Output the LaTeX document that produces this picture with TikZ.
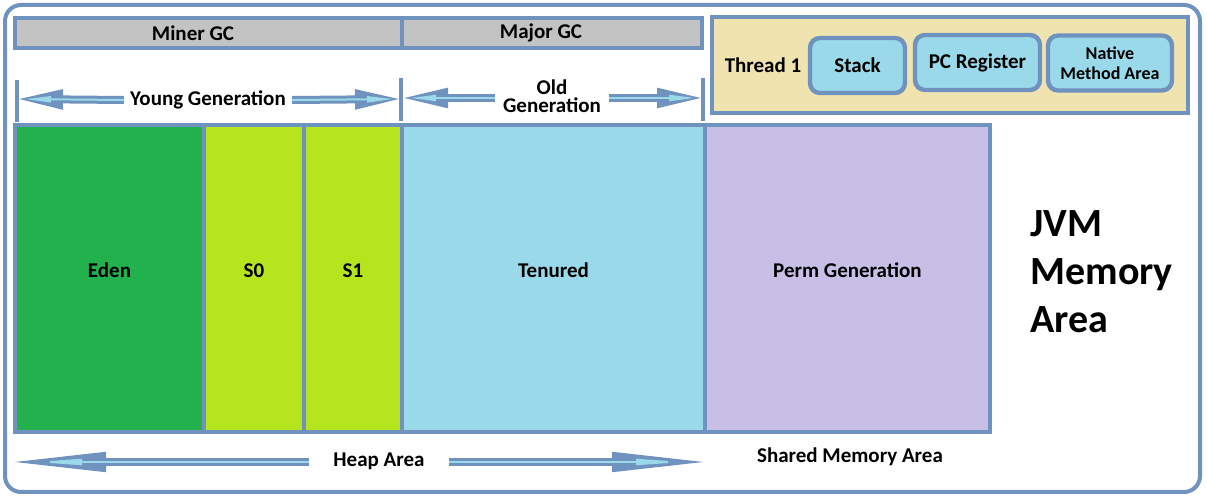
\documentclass[tikz,border=0pt]{standalone}
\usepackage{fontspec}
\setmainfont{Carlito}
\usetikzlibrary{arrows.meta,positioning}

\definecolor{jblue}{RGB}{112,146,190}
\definecolor{gcgray}{RGB}{195,195,195}
\definecolor{edengreen}{RGB}{34,177,76}
\definecolor{survlime}{RGB}{181,230,29}
\definecolor{tenblue}{RGB}{153,217,234}
\definecolor{permlilac}{RGB}{200,191,231}
\definecolor{threadtan}{RGB}{239,228,176}

\begin{document}
\begin{tikzpicture}[x=0.5pt, y=-0.5pt,
			every node/.style={font=\fontsize{10.5}{12}\selectfont\bfseries, inner sep=0pt},
			gcbar/.style={draw=jblue, line width=2.2pt, fill=gcgray, minimum height=15pt},
			area/.style={draw=jblue, line width=2.4pt, minimum height=153.5pt, text depth=8pt},
			thread/.style={draw=jblue, line width=2.2pt, fill=threadtan, minimum width=238pt, minimum height=48pt},
			part/.style={draw=jblue, line width=2.2pt, rounded corners=5pt, fill=tenblue, align=center, minimum height=27.5pt},
			tick/.style={draw=jblue, line width=2pt},
			fatbase/.style={draw=jblue, line width=4pt},
			fatshort/.style={fatbase, -{Triangle[length=24pt, width=9pt]},
				postaction={draw=tenblue, line width=1pt, shorten >=5pt, -{Triangle[length=13pt, width=3pt]}}},
			fatlong/.style={fatbase, -{Triangle[length=50pt, width=9pt]},
				postaction={draw=tenblue, line width=1pt, shorten >=14pt, -{Triangle[length=24pt, width=3pt]}}}]
			\useasboundingbox (0,0) rectangle (1207,497);
			\draw[jblue, line width=2pt, rounded corners=8pt] (5,5) rectangle (1200,492);
			% garbage collection bars
			\node[gcbar, minimum width=193.5pt] (minor) at (208.5,33) {};
			\node[gcbar, minimum width=150pt] (major) at (552,33) {};
			\node (minorlbl) at (193,33) {Miner GC};
			\node (majorlbl) at (541,33) {Major GC};
			% thread area
			\node[thread] (thr) at (950,65) {};
			\node (thrlbl) at (763,65) {Thread 1};
			\node[part, minimum width=47.5pt] (stack) at (857.5,65.5) {Stack};
			\node[part, minimum width=62.5pt] (pcreg) at (977.5,62.5) {PC Register};
			\node[part, minimum width=62pt, font=\fontsize{9}{10}\selectfont\bfseries] (native) at (1110,63) {Native\\ Method Area};
			% memory blocks
			\node[area, fill=edengreen, minimum width=94.5pt] (eden) at (109.5,278.5) {Eden};
			\node[area, fill=survlime, minimum width=50pt] (szero) at (254,278.5) {S0};
			\node[area, fill=survlime, minimum width=49pt] (sone) at (353,278.5) {S1};
			\node[area, fill=tenblue, minimum width=151.5pt] (tenured) at (553.5,278.5) {Tenured};
			\node[area, fill=permlilac, minimum width=142.5pt] (perm) at (847.5,278.5) {Perm Generation};
			% generation ticks
			\coordinate (ya) at (17,80);
			\coordinate (yb) at (17,122);
			\coordinate (oa) at (401,78);
			\coordinate (ob) at (401,121);
			\coordinate (pa) at (703,78);
			\coordinate (pb) at (703,121);
			\draw[tick] (ya) -- (yb);
			\draw[tick] (oa) -- (ob);
			\draw[tick] (pa) -- (pb);
			\node[inner xsep=3pt] (young) at (208,100) {Young Generation};
			\node[align=center, inner xsep=4pt, font=\fontsize{10.5}{9}\selectfont\bfseries] (old) at (552,96) {Old\\ Generation};
			\coordinate (youngl) at (15,99);
			\coordinate (youngr) at (403,99);
			\coordinate (oldl) at (400,98);
			\coordinate (oldr) at (705,98);
			\draw[fatshort] (young.west) -- (youngl);
			\draw[fatshort] (young.east) -- (youngr);
			\draw[fatshort] (old.west |- oldl) -- (oldl);
			\draw[fatshort] (old.east |- oldr) -- (oldr);
			% heap and shared areas
			\node[inner xsep=12pt] (heap) at (379,461) {Heap Area};
			\coordinate (heapl) at (6,462);
			\coordinate (heapr) at (712,462);
			\draw[fatlong] (heap.west |- heapl) -- (heapl);
			\draw[fatlong] (heap.east |- heapr) -- (heapr);
			\node (shared) at (850,457) {Shared Memory Area};
			\node[anchor=west, align=left, font=\fontsize{20}{24}\selectfont\bfseries] (jvm) at (1030,272) {JVM\\ Memory\\ Area};
		\end{tikzpicture}
\end{document}
